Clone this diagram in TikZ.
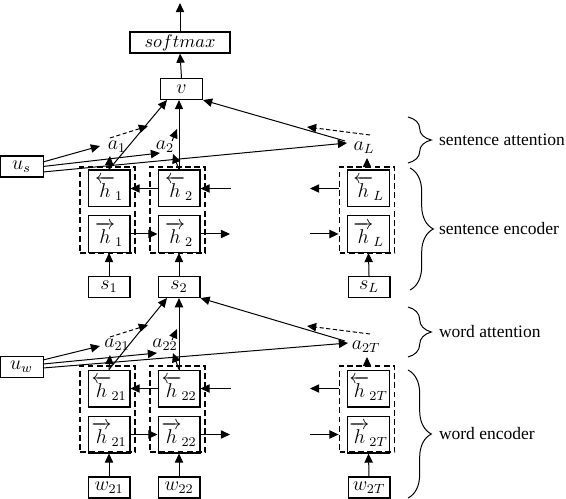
\documentclass[tikz,border=0pt]{standalone}
\usepackage{fontspec}
\setmainfont{Liberation Serif}
\usepackage{amsmath}
\usetikzlibrary{arrows.meta, calc, decorations.pathreplacing}

\tikzset{
  >={Triangle[length=5.5pt, width=5pt]},
  mathlbl/.style={font=\fontsize{11.5}{13}\selectfont},
  cell/.style={draw, mathlbl, line width=0.8pt, minimum width=25pt, minimum height=22pt, inner sep=0pt},
  inbox/.style={draw, mathlbl, line width=0.8pt, minimum width=25pt, minimum height=12.5pt, inner sep=0pt},
  rnn/.style={draw, line width=1.1pt, dash pattern=on 3.5pt off 2pt, minimum width=33pt, minimum height=52pt, inner sep=0pt},
  link/.style={->, line width=0.6pt},
  weight/.style={->, line width=0.6pt, dash pattern=on 2.5pt off 1.5pt},
  grp/.style={decorate, decoration={brace, amplitude=14pt}, line width=0.6pt},
  grplabel/.style={anchor=west, inner sep=1pt, font=\fontsize{10.5}{12}\selectfont}
}

\begin{document}
\begin{tikzpicture}[x=0.6pt, y=-0.6pt]
  \useasboundingbox (0,0) rectangle (566,499);

  % sentence level
  \node[inbox, minimum width=60pt, font=\fontsize{11}{13}\selectfont] (soft) at (180,42.5) {$softmax$};
  \node[inbox] (v) at (181.5,89) {$v$};
  \coordinate (out) at (180,3);
  \node[inbox, minimum width=26pt] (us) at (21.5,166.5) {$u_s$};
  \node[mathlbl] (a1) at (117,147) {$a_1$};
  \node[mathlbl] (a2) at (165,147) {$a_2$};
  \node[mathlbl] (aL) at (364,148) {$a_L$};

  \node[rnn] (d1) at (107.5,210) {};
  \node[rnn] (d2) at (177.5,210) {};
  \node[rnn] (dL) at (367,210) {};
  \node[cell] (hb1) at (109,188.5) {$\overleftarrow{h}_{1}$};
  \node[cell] (hf1) at (109,234) {$\overrightarrow{h}_{1}$};
  \node[cell] (hb2) at (179,188.5) {$\overleftarrow{h}_{2}$};
  \node[cell] (hf2) at (179,234) {$\overrightarrow{h}_{2}$};
  \node[cell] (hbL) at (368.5,188.5) {$\overleftarrow{h}_{L}$};
  \node[cell] (hfL) at (368.5,234) {$\overrightarrow{h}_{L}$};
  \node[inbox] (s1) at (109,287) {$s_1$};
  \node[inbox] (s2) at (179,287) {$s_2$};
  \node[inbox] (sL) at (369,287) {$s_L$};

  \coordinate (v1) at (167,100);
  \coordinate (aLf) at (345,141);
  \coordinate (us1) at (43,162);
  \coordinate (us2) at (43,166.5);
  \coordinate (us3) at (43,172);
  \coordinate (a1w) at (100,146);
  \coordinate (a2w) at (160,153);
  \coordinate (aLw) at (347,143);
  \coordinate (a1s) at (110,156);
  \coordinate (a2s) at (173,154);
  \coordinate (aLs) at (367,158);
  \coordinate (q1a) at (110,138);
  \coordinate (q1b) at (148,126);
  \coordinate (q2a) at (172,141);
  \coordinate (q2b) at (177,129);
  \coordinate (qLa) at (370,135);
  \coordinate (qLb) at (307,127);
  \coordinate (hb2in) at (231,188.5);
  \coordinate (hbLout) at (310,188.5);
  \coordinate (hf2out) at (230,234);
  \coordinate (hfLin) at (310,234);

  \draw[link] (soft.north) -- (out);
  \draw[link] (v.north) -- (soft.south);
  \draw[link] (hb1.north) -- (v1);
  \draw[link] (hb2.north) -- (hb2.north |- v.south);
  \draw[link] (aLf) -- (v.south east);
  \draw[link] (us1) -- (a1w);
  \draw[link] (us2) -- (a2w);
  \draw[link] (us3) -- (aLw);
  \draw[link] (hb1.north) -- (a1s);
  \draw[link] (hb2.north) -- (a2s);
  \draw[link] (dL.north) -- (aLs);
  \draw[weight] (q1a) -- (q1b);
  \draw[weight] (q2a) -- (q2b);
  \draw[weight] (qLa) -- (qLb);
  \draw[link] (hb2.west) -- (hb1.east);
  \draw[link] (hb2in) -- (hb2.east);
  \draw[link] (dL.west |- hbL.west) -- (hbLout);
  \draw[link] (hf1.east) -- (hf2.west);
  \draw[link] (hf2.east) -- (hf2out);
  \draw[link] (hfLin) -- (dL.west |- hfL.west);
  \draw[link] (s1.north) -- (hf1.south);
  \draw[link] (s2.north) -- (hf2.south);
  \draw[link] (sL.north) -- (hfL.south);

  % word level
  \node[inbox, minimum width=26pt] (uw) at (21.5,367) {$u_w$};
  \node[mathlbl] (a21) at (117,345) {$a_{21}$};
  \node[mathlbl] (a22) at (165,345) {$a_{22}$};
  \node[mathlbl] (a2T) at (366,347) {$a_{2T}$};

  \node[rnn] (e1) at (107.5,409) {};
  \node[rnn] (e2) at (177.5,409) {};
  \node[rnn] (eT) at (367,409) {};
  \node[cell] (hb21) at (109,388.5) {$\overleftarrow{h}_{21}$};
  \node[cell] (hf21) at (109,434.5) {$\overrightarrow{h}_{21}$};
  \node[cell] (hb22) at (179,388.5) {$\overleftarrow{h}_{22}$};
  \node[cell] (hf22) at (179,434.5) {$\overrightarrow{h}_{22}$};
  \node[cell] (hb2T) at (368.5,388.5) {$\overleftarrow{h}_{2T}$};
  \node[cell] (hf2T) at (368.5,434.5) {$\overrightarrow{h}_{2T}$};
  \node[inbox] (w21) at (109,487.5) {$w_{21}$};
  \node[inbox] (w22) at (179,487.5) {$w_{22}$};
  \node[inbox] (w2T) at (369,487.5) {$w_{2T}$};

  \coordinate (s2a) at (167,298);
  \coordinate (a2Tf) at (345,341);
  \coordinate (uw1) at (43,360);
  \coordinate (uw2) at (43,364);
  \coordinate (uw3) at (43,368);
  \coordinate (a21w) at (100,346);
  \coordinate (a22w) at (157,353);
  \coordinate (a2Tw) at (348,343);
  \coordinate (a21s) at (110,355);
  \coordinate (a22s) at (173,353);
  \coordinate (a2Ts) at (367,357);
  \coordinate (r1a) at (110,337);
  \coordinate (r1b) at (148,325);
  \coordinate (r2a) at (172,340);
  \coordinate (r2b) at (177,329);
  \coordinate (rTa) at (370,334);
  \coordinate (rTb) at (307,326);
  \coordinate (hb22in) at (231,388.5);
  \coordinate (hb2Tout) at (310,388.5);
  \coordinate (hf22out) at (230,434.5);
  \coordinate (hf2Tin) at (310,434.5);

  \draw[link] (hb21.north) -- (s2a);
  \draw[link] (hb22.north) -- (hb22.north |- s2.south);
  \draw[link] (a2Tf) -- (s2.south east);
  \draw[link] (uw1) -- (a21w);
  \draw[link] (uw2) -- (a22w);
  \draw[link] (uw3) -- (a2Tw);
  \draw[link] (hb21.north) -- (a21s);
  \draw[link] (hb22.north) -- (a22s);
  \draw[link] (eT.north) -- (a2Ts);
  \draw[weight] (r1a) -- (r1b);
  \draw[weight] (r2a) -- (r2b);
  \draw[weight] (rTa) -- (rTb);
  \draw[link] (hb22.west) -- (hb21.east);
  \draw[link] (hb22in) -- (hb22.east);
  \draw[link] (eT.west |- hb2T.west) -- (hb2Tout);
  \draw[link] (hf21.east) -- (hf22.west);
  \draw[link] (hf22.east) -- (hf22out);
  \draw[link] (hf2Tin) -- (eT.west |- hf2T.west);
  \draw[link] (w21.north) -- (hf21.south);
  \draw[link] (w22.north) -- (hf22.south);
  \draw[link] (w2T.north) -- (hf2T.south);

  % braces
  \coordinate (b1a) at (408,117);
  \coordinate (b1b) at (408,163);
  \coordinate (b2a) at (410,168);
  \coordinate (b2b) at (410,290);
  \coordinate (b3a) at (408,307);
  \coordinate (b3b) at (408,357);
  \coordinate (b4a) at (408,370);
  \coordinate (b4b) at (408,498);
  \draw[grp] (b1a) -- (b1b);
  \draw[grp] (b2a) -- (b2b);
  \draw[grp] (b3a) -- (b3b);
  \draw[grp] (b4a) -- (b4b);
  \node[grplabel] (lab1) at (437,140) {sentence attention};
  \node[grplabel] (lab2) at (437,229) {sentence encoder};
  \node[grplabel] (lab3) at (437,332) {word attention};
  \node[grplabel] (lab4) at (437,434) {word encoder};
\end{tikzpicture}
\end{document}
